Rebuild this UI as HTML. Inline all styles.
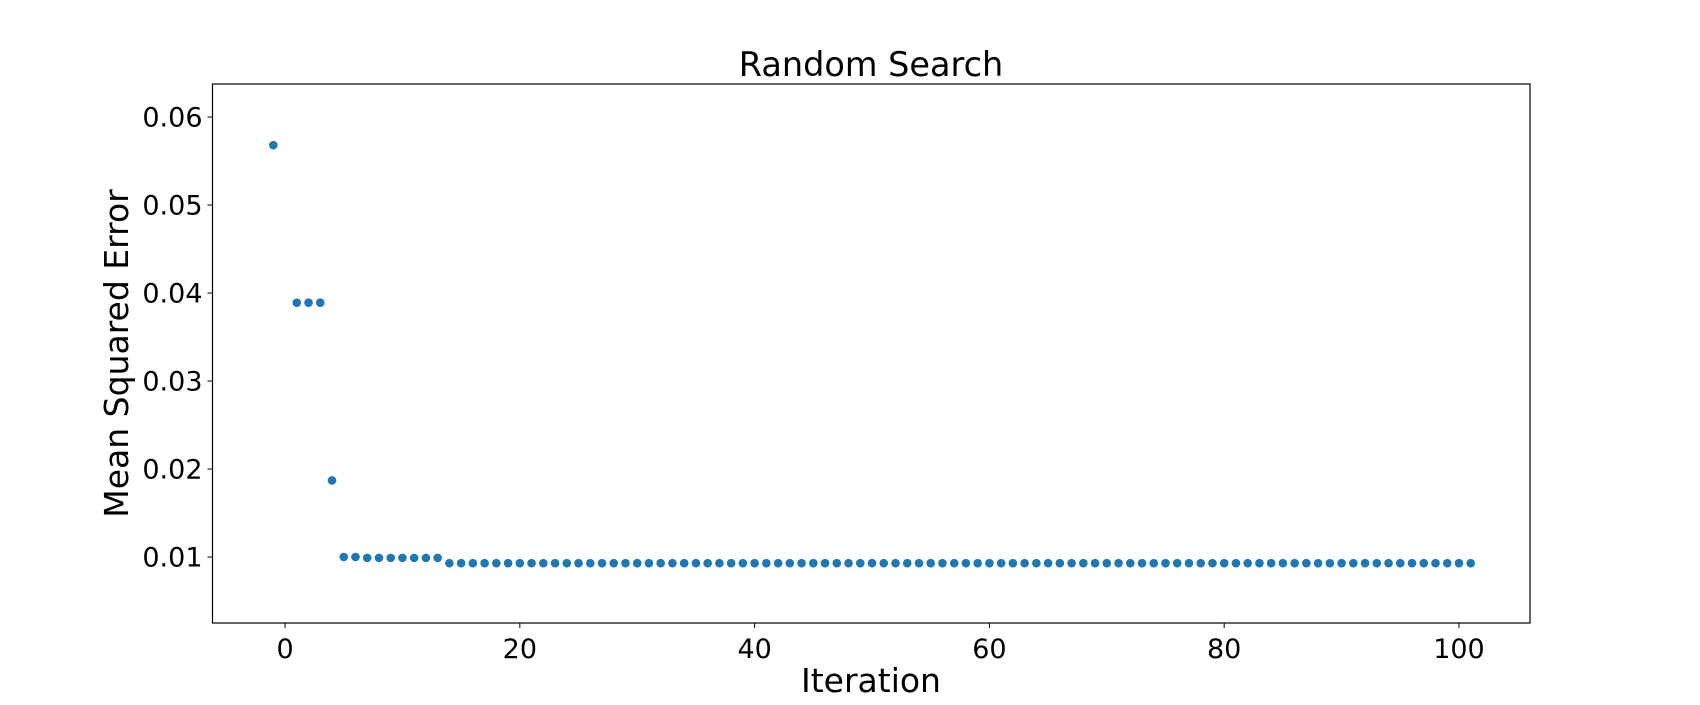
<!DOCTYPE html>
<html><head><meta charset="utf-8"><style>
body{margin:0;background:#fff;}
svg text{font-family:"DejaVu Sans","Liberation Sans",sans-serif;fill:#000;}
</style></head><body>
<svg id="chart" width="1700" height="700">
<rect x="0" y="0" width="1700" height="700" fill="#fff"/>
<text x="871" y="76" font-size="33.5" text-anchor="middle">Random Search</text>
<g id="xt"></g>
<g id="yt"></g>
<g id="pts"></g>
<rect x="212.5" y="84" width="1317.5" height="539" fill="none" stroke="#000" stroke-width="1.2"/>
<text x="871" y="692" font-size="33" text-anchor="middle">Iteration</text>
<text transform="translate(128,353.5) rotate(-90)" font-size="33" text-anchor="middle">Mean Squared Error</text>
</svg>
<script>
const xTicks=[0,20,40,60,80,100];
const yTicks=[0.01,0.02,0.03,0.04,0.05,0.06];
const yTickLabels=["0.01","0.02","0.03","0.04","0.05","0.06"];
const iterations=[-1,1,2,3,4,5,6,7,8,9,10,11,12,13];
const mseValues=[0.0568,0.0389,0.0389,0.0389,0.0187,0.0100,0.0100,0.0099,0.0099,0.0099,0.0099,0.0099,0.0099,0.0099];
// remaining iterations 14..101 plateau
const plateauStart=14, plateauEnd=101, plateauValue=0.0093;
for(let i=plateauStart;i<=plateauEnd;i++){iterations.push(i);mseValues.push(plateauValue);}

const X0=212.5,X1=1530,Y0=84,Y1=623;
const xMin=-6.18,xMax=106.05,yMin=0.0025,yMax=0.06375;
const sx=v=>X0+(v-xMin)/(xMax-xMin)*(X1-X0);
const sy=v=>Y1-(v-yMin)/(yMax-yMin)*(Y1-Y0);
const NS="http://www.w3.org/2000/svg";
function mk(t,a){const e=document.createElementNS(NS,t);for(const k in a)e.setAttribute(k,a[k]);return e;}
const xt=document.getElementById('xt'),yt=document.getElementById('yt'),pts=document.getElementById('pts');
xTicks.forEach(v=>{
  const l=mk('line',{x1:sx(v),x2:sx(v),y1:Y1,y2:Y1+5,stroke:'#000','stroke-width':1});
  
  
  xt.appendChild(l);
  const t=mk('text',{x:sx(v),y:Y1+35,'font-size':27,'text-anchor':'middle'});
  t.textContent=v;
  
  
  xt.appendChild(t);
});
yTicks.forEach((v,i)=>{
  const l=mk('line',{x1:X0-5,x2:X0,y1:sy(v),y2:sy(v),stroke:'#000','stroke-width':1});
  
  
  yt.appendChild(l);
  const t=mk('text',{x:X0-10,y:sy(v)+9.5,'font-size':27,'text-anchor':'end'});
  t.textContent=yTickLabels[i];
  
  
  yt.appendChild(t);
});
iterations.forEach((x,i)=>{
  const c=mk('circle',{cx:sx(x),cy:sy(mseValues[i]),r:4.3,fill:'#1f77b4'});
  
  
  pts.appendChild(c);
});
</script>
</body></html>
